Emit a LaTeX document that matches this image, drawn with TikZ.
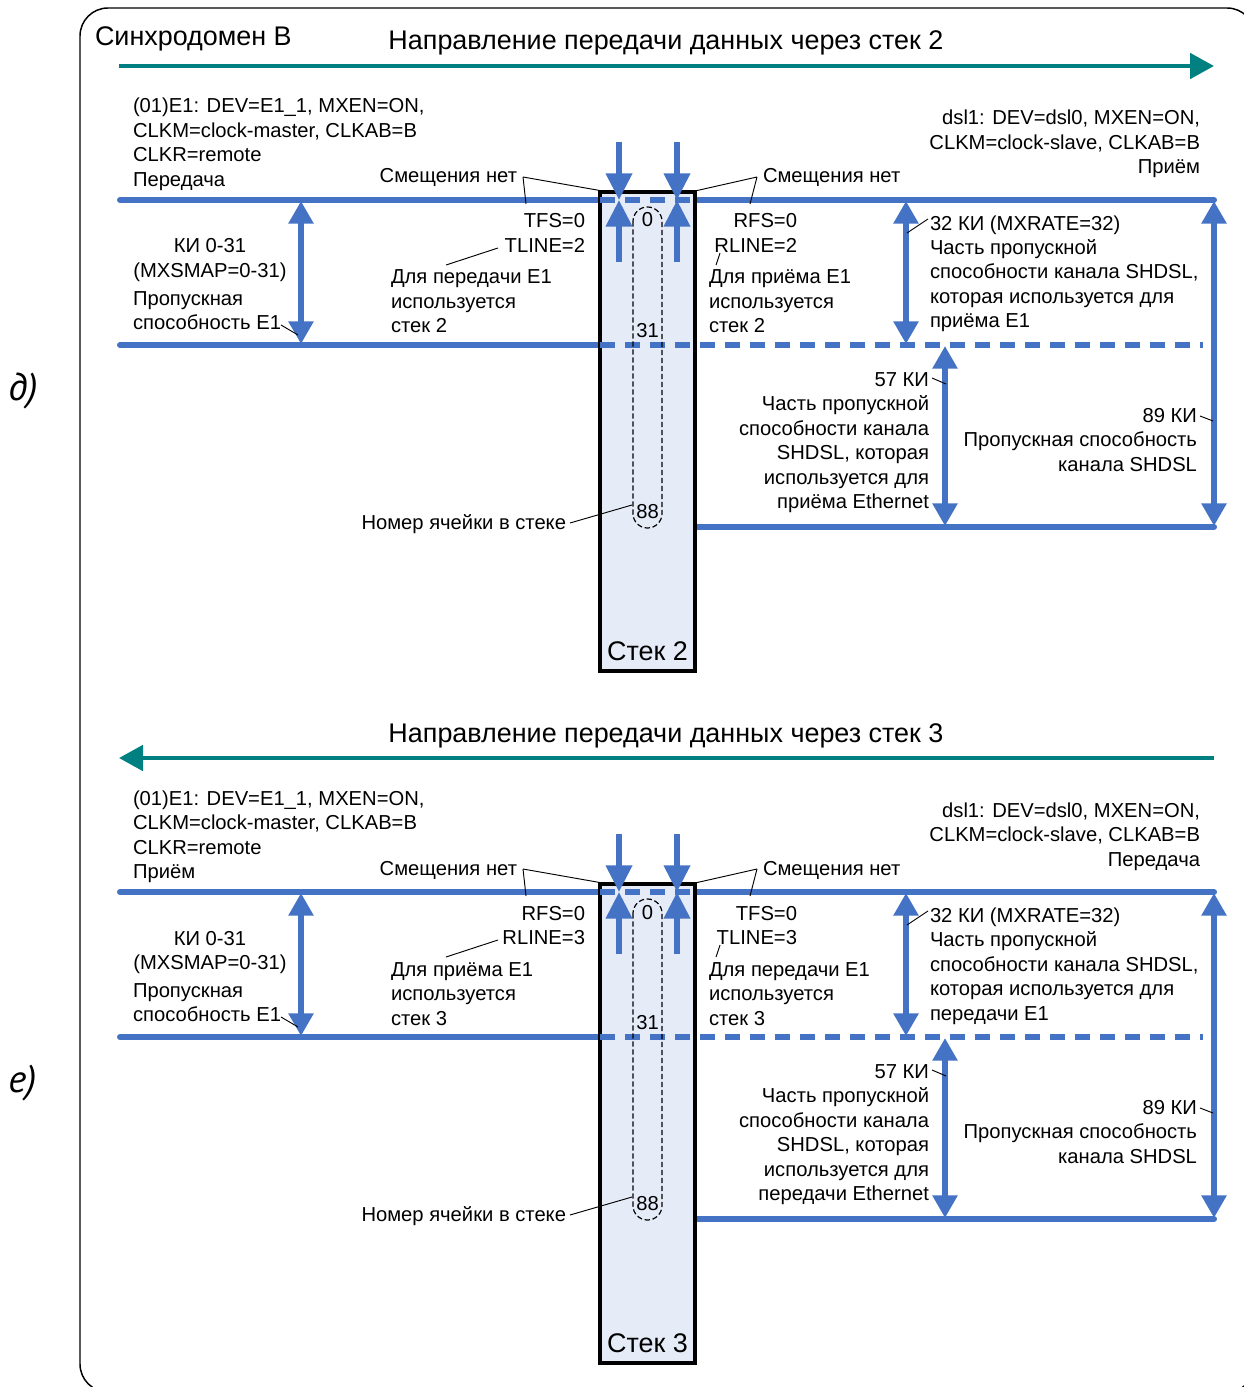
\documentclass[tikz,border=0pt]{standalone}
\usepackage{fontspec}
\setmainfont{Liberation Sans}
\newfontfamily\labfont{PT Sans}
\usetikzlibrary{arrows.meta}
\definecolor{lineblue}{RGB}{68,114,196}
\definecolor{dirteal}{RGB}{0,128,128}
\definecolor{stackfill}{RGB}{230,236,247}
\tikzset{
 txt/.style={font=\fontsize{15.15}{18.375}\selectfont, inner sep=0pt, outer sep=0pt, align=left},
 txtr/.style={txt, align=right},
 txtc/.style={txt, align=center},
 bigtxt/.style={font=\fontsize{20.2}{24}\selectfont, inner sep=0pt, outer sep=0pt},
 secmark/.style={font=\labfont\itshape\fontsize{29}{32}\selectfont, inner sep=0pt},
 busline/.style={draw=lineblue, line width=4.5pt, line cap=round},
 busdash/.style={draw=lineblue, line width=4.5pt, dash pattern=on 11.25pt off 7.5pt},
 spanarrow/.style={draw=lineblue, line width=4.5pt, {Triangle[length=17pt,width=18pt]}-{Triangle[length=17pt,width=18pt]}},
 feedarrow/.style={draw=lineblue, line width=4.5pt, -{Triangle[length=20pt,width=19pt]}},
 leader/.style={draw=black, line width=0.7pt},
 cellbox/.style={draw=black, line width=0.9pt, dash pattern=on 4pt off 2pt, rounded corners=10.8pt},
 stackbox/.style={draw=black, line width=3pt, fill=stackfill},
 dirR/.style={draw=dirteal, line width=3pt, -{Triangle[length=18pt,width=19pt]}},
 dirL/.style={draw=dirteal, line width=3pt, {Triangle[length=18pt,width=19pt]}-},
}
% #1 stack no, #2 teal style, #3 left word, #4 right word, #5 left letter,
% #6 right letter, #7 left genitive, #8 right genitive, #9 section mark
% multi-line nodes are placed by the baseline of their last line
\newcommand\panel[9]{%
 \node[bigtxt, anchor=base] (title) at (666,50) {Направление передачи данных через стек #1};
 \coordinate (dA) at (119,66); \coordinate (dB) at (1214,66);
 \draw[#2] (dA) -- (dB);
 % bus lines
 \coordinate (t1) at (120,200); \coordinate (t2) at (598,200);
 \coordinate (t3) at (696,200); \coordinate (t4) at (1214,200);
 \coordinate (m1) at (120,345); \coordinate (m2) at (598,345); \coordinate (m3) at (1203,345);
 \coordinate (u1) at (696,527); \coordinate (u2) at (1214,527);
 \draw[busline] (t1) -- (t2);
 \draw[busline] (t3) -- (t4);
 \draw[busline] (m1) -- (m2);
 \draw[busline] (u1) -- (u2);
 % stack
 \draw[stackbox] (600,192) rectangle (695,671);
 \draw[busdash] (600,200) -- (695,200);
 \draw[busdash] (600,345) -- (m3);
 \draw[cellbox] (633,207) rectangle (662,528);
 \node[txt, anchor=base] (c0) at (647.5,227) {0};
 \node[txt, anchor=base] (c31) at (647.5,337) {31};
 \node[txt, anchor=base] (c88) at (647.5,518) {88};
 \node[bigtxt, anchor=base] (stk) at (647.5,660) {Стек #1};
 % span arrows
 \coordinate (s1a) at (301,201); \coordinate (s1b) at (301,344);
 \coordinate (s2a) at (906,201); \coordinate (s2b) at (906,344);
 \coordinate (s3a) at (945,346); \coordinate (s3b) at (945,526);
 \coordinate (s4a) at (1214,201); \coordinate (s4b) at (1214,526);
 \draw[spanarrow] (s1a) -- (s1b);
 \draw[spanarrow] (s2a) -- (s2b);
 \draw[spanarrow] (s3a) -- (s3b);
 \draw[spanarrow] (s4a) -- (s4b);
 % feed arrows at the stack
 \coordinate (fL) at (619,200); \coordinate (fR) at (677,200);
 \draw[feedarrow] (619,142) -- (fL);
 \draw[feedarrow] (677,142) -- (fR);
 \draw[feedarrow] (619,262) -- (fL);
 \draw[feedarrow] (677,262) -- (fR);
 % texts
 \node[txt, anchor=base west] (linfo) at (133,186.5) {(01)E1: DEV=E1\_1, MXEN=ON,\\CLKM=clock-master, CLKAB=B\\CLKR=remote\\#3};
 \node[txtr, anchor=base east] (rinfo) at (1200,174) {dsl1: DEV=dsl0, MXEN=ON,\\CLKM=clock-slave, CLKAB=B\\#4};
 \node[txt, anchor=base east] (nsL) at (517,183) {Смещения нет};
 \node[txt, anchor=base west] (nsR) at (763,183) {Смещения нет};
 \node[txtr, anchor=base east] (lfs) at (585,252.5) {#5FS=0\\#5LINE=#1};
 \node[txtr, anchor=base east] (rfs) at (797,252.5) {#6FS=0\\#6LINE=#1};
 \node[txt, anchor=base west] (luse) at (391,333) {Для #7 E1\\используется\\стек #1};
 \node[txt, anchor=base west] (ruse) at (709,333) {Для #8 E1\\используется\\стек #1};
 \node[txtc, anchor=base] (ki) at (210,277.5) {КИ 0-31\\(MXSMAP=0-31)};
 \node[txt, anchor=base west] (e1bw) at (133,329.5) {Пропускная\\способность E1};
 \node[txt, anchor=base west] (ki32) at (930,328) {32 КИ (MXRATE=32)\\Часть пропускной\\способности канала SHDSL,\\которая используется для\\#8 E1};
 \node[txtr, anchor=base east] (ki57) at (929,508.5) {57 КИ\\Часть пропускной\\способности канала\\SHDSL, которая\\используется для\\#8 Ethernet};
 \node[txtr, anchor=base east] (ki89) at (1197,471) {89 КИ\\Пропускная способность\\канала SHDSL};
 \node[txt, anchor=base east] (cellno) at (566,529) {Номер ячейки в стеке};
 \node[secmark, anchor=base west] (mark) at (8,400) {#9};
 % leaders
 \coordinate (kL) at (523,177); \coordinate (kR) at (757,177);
 \draw[leader] (kL) -- (526,204);
 \draw[leader] (kL) -- (614,193);
 \draw[leader] (kR) -- (750,204);
 \draw[leader] (kR) -- (695,191);
 \draw[leader] (498,248) -- (446,265);
 \draw[leader] (720,253) -- (716,265);
 \draw[leader] (281,325) -- (298,335);
 \draw[leader] (928,219) -- (907,233);
 \draw[leader] (932,378) -- (946,384);
 \draw[leader] (1200,416) -- (1213,421);
 \draw[leader] (570,523) -- (632,505);
}
\begin{document}
\begin{tikzpicture}[x=0.75pt,y=-0.75pt]
 \useasboundingbox (0,0) rectangle (1244,1387);
 \draw[line width=1.1pt, rounded corners=21pt] (80,8) rectangle (1255,1392);
 \node[bigtxt, anchor=base west] (sync) at (95,46) {Синхродомен B};
 \begin{scope}[name prefix=pd-]
  \panel{2}{dirR}{Передача}{Приём}{T}{R}{передачи}{приёма}{д)}
 \end{scope}
 \begin{scope}[shift={(0,692)}, name prefix=pe-]
  \panel{3}{dirL}{Приём}{Передача}{R}{T}{приёма}{передачи}{е)}
 \end{scope}
\end{tikzpicture}
\end{document}
